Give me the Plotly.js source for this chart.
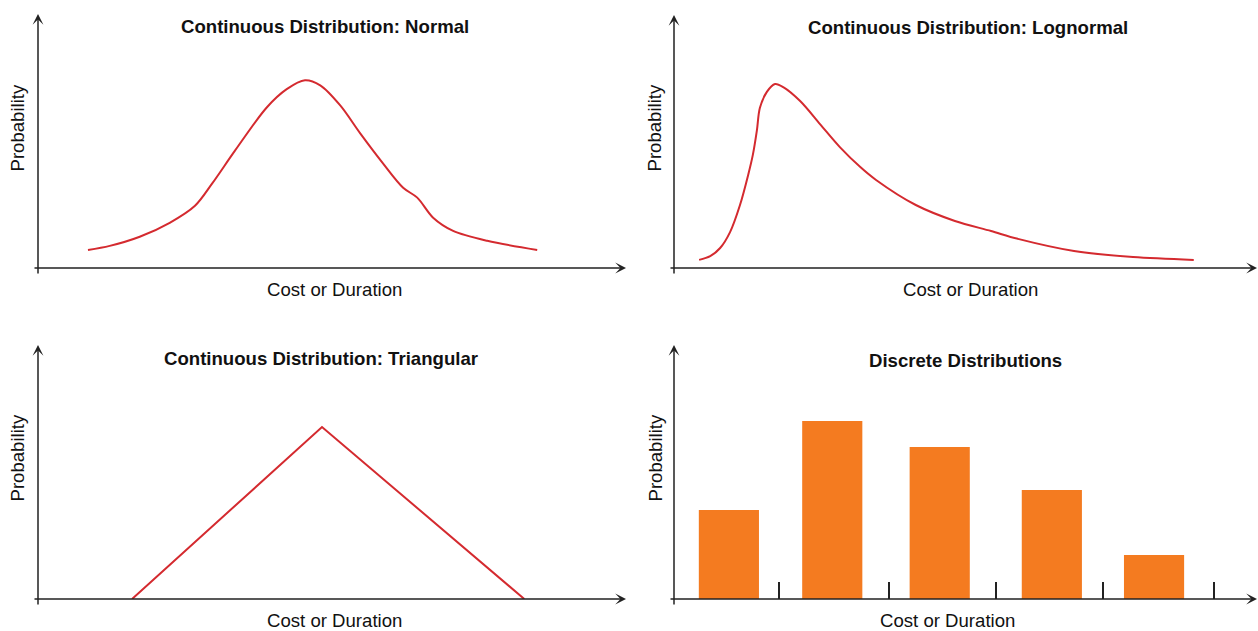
<!DOCTYPE html>
<html>
<head>
<meta charset="utf-8">
<script src="https://cdn.plot.ly/plotly-3.0.1.min.js"></script>
<style>html,body{margin:0;padding:0;background:#fff;}#chart{width:1258px;height:631px;}</style>
</head>
<body>
<div id="chart"></div>
<script>
// ---------- data (cost/duration units 0-100, probability 0-1) ----------
const panelTitles = ["Continuous Distribution: Normal", "Continuous Distribution: Lognormal",
                     "Continuous Distribution: Triangular", "Discrete Distributions"];
const xAxisTitle = "Cost or Duration";
const yAxisTitle = "Probability";

const normalX = [8.5, 12.2, 17.3, 22.4, 26.7, 29.6, 33.5, 38.9, 42.3, 45.4, 48.0, 51.4, 54.8, 58.7, 62.1, 64.5, 67.2, 70.6, 76.4, 84.9];
const normalY = [0.071, 0.087, 0.123, 0.178, 0.245, 0.332, 0.462, 0.632, 0.704, 0.739, 0.719, 0.640, 0.530, 0.411, 0.316, 0.277, 0.198, 0.146, 0.107, 0.071];

const lognormalX = [4.3, 6.2, 7.9, 9.6, 11.3, 12.7, 13.5, 14.2, 14.7, 15.9, 17.3, 18.7, 21.6, 25.0, 28.4, 31.9, 34.6, 41.4, 48.1, 54.3, 58.9, 68.5, 78.6, 89.0];
const lognormalY = [0.032, 0.047, 0.079, 0.142, 0.249, 0.368, 0.447, 0.545, 0.632, 0.696, 0.727, 0.715, 0.660, 0.569, 0.478, 0.399, 0.348, 0.249, 0.186, 0.146, 0.115, 0.067, 0.043, 0.032];

const triangularX = [16.0, 48.3, 82.7];
const triangularY = [0, 0.677, 0];

const discreteX = [9.4, 27.1, 45.5, 64.7, 82.2];
const discreteY = [0.350, 0.701, 0.598, 0.429, 0.173];
const discreteEdges = [18.0, 36.8, 55.1, 73.5, 92.5];
const discreteBarWidth = 10.3;

// ---------- layout helpers ----------
const W = 1258, H = 631;
const RED = "#d42a2f", ORANGE = "#f47b20", AXIS = "#222222";
const FONT = "Liberation Sans, Arial, Helvetica, sans-serif";
const FS = 18.6;
// pixel frames: origin (ox,oy), x-arrow tip, y-arrow tip
const frames = [
  {ox: 38, oy: 268, xt: 626, yt: 14},
  {ox: 674, oy: 268, xt: 1258, yt: 15},
  {ox: 38, oy: 599, xt: 626, yt: 345},
  {ox: 674, oy: 599, xt: 1258, yt: 345}
];
const titlePos = [[324.5, 26], [967.5, 28], [321, 358], [965.5, 361]];
const xTitlePos = [[334.5, 289], [970.5, 289], [334.5, 620], [947.5, 620]];
const yTitlePos = [[16.5, 128], [653.5, 128], [16.5, 458], [654.5, 458]];

const lineStyle = {color: RED, width: 2, shape: "spline", smoothing: 0.9};
const traces = [
  {x: normalX, y: normalY, type: "scatter", mode: "lines", line: lineStyle, xaxis: "x", yaxis: "y", cliponaxis: false, hoverinfo: "skip"},
  {x: lognormalX, y: lognormalY, type: "scatter", mode: "lines", line: lineStyle, xaxis: "x2", yaxis: "y2", cliponaxis: false, hoverinfo: "skip"},
  {x: triangularX, y: triangularY, type: "scatter", mode: "lines", line: {color: RED, width: 2}, xaxis: "x3", yaxis: "y3", cliponaxis: false, hoverinfo: "skip"},
  {x: discreteX, y: discreteY, type: "bar", width: discreteBarWidth, marker: {color: ORANGE, line: {width: 0}}, xaxis: "x4", yaxis: "y4", hoverinfo: "skip"}
];

const layout = {
  width: W, height: H,
  margin: {l: 0, r: 0, t: 0, b: 0, pad: 0},
  paper_bgcolor: "#ffffff", plot_bgcolor: "rgba(0,0,0,0)",
  showlegend: false,
  font: {family: FONT, color: "#111111", size: FS},
  annotations: []
};

const txtFont = {size: FS, family: FONT, color: "#111"};
frames.forEach((f, i) => {
  const n = i === 0 ? "" : String(i + 1);
  layout["xaxis" + n] = {
    domain: [f.ox / W, f.xt / W], range: [0, 100], anchor: "y" + n,
    showgrid: false, zeroline: false, showline: false, showticklabels: false,
    ticks: "", fixedrange: true
  };
  layout["yaxis" + n] = {
    domain: [1 - f.oy / H, 1 - f.yt / H], range: [0, 1], anchor: "x" + n,
    showgrid: false, zeroline: false, showline: false, showticklabels: false,
    ticks: "", fixedrange: true
  };
  // axis arrows (paper coordinates)
  layout.annotations.push({
    xref: "paper", yref: "paper", x: f.xt / W, y: 1 - f.oy / H,
    ax: (f.ox - 5) - f.xt, ay: 0, axref: "pixel", ayref: "pixel",
    text: "", showarrow: true, arrowhead: 3, arrowsize: 1.2, arrowwidth: 1.5, arrowcolor: AXIS, standoff: 0
  });
  layout.annotations.push({
    xref: "paper", yref: "paper", x: f.ox / W, y: 1 - f.yt / H,
    ax: 0, ay: (f.oy + 7) - f.yt, axref: "pixel", ayref: "pixel",
    text: "", showarrow: true, arrowhead: 3, arrowsize: 1.2, arrowwidth: 1.5, arrowcolor: AXIS, standoff: 0
  });
  // panel title
  layout.annotations.push({
    xref: "paper", yref: "paper", x: titlePos[i][0] / W, y: 1 - titlePos[i][1] / H,
    xanchor: "center", yanchor: "middle", showarrow: false,
    text: "<b>" + panelTitles[i] + "</b>", font: txtFont
  });
  // axis titles
  layout.annotations.push({
    xref: "paper", yref: "paper", x: xTitlePos[i][0] / W, y: 1 - xTitlePos[i][1] / H,
    xanchor: "center", yanchor: "middle", showarrow: false,
    text: xAxisTitle, font: txtFont
  });
  layout.annotations.push({
    xref: "paper", yref: "paper", x: yTitlePos[i][0] / W, y: 1 - yTitlePos[i][1] / H,
    xanchor: "center", yanchor: "middle", showarrow: false, textangle: -90,
    text: yAxisTitle, font: txtFont
  });
});

// bin boundaries on the discrete panel drawn as inside ticks
Object.assign(layout.xaxis4, {tickmode: "array", tickvals: discreteEdges, ticks: "inside", ticklen: 17, tickwidth: 1.5, tickcolor: AXIS});

Plotly.newPlot("chart", traces, layout, {displayModeBar: false, staticPlot: true});
</script>
</body>
</html>
